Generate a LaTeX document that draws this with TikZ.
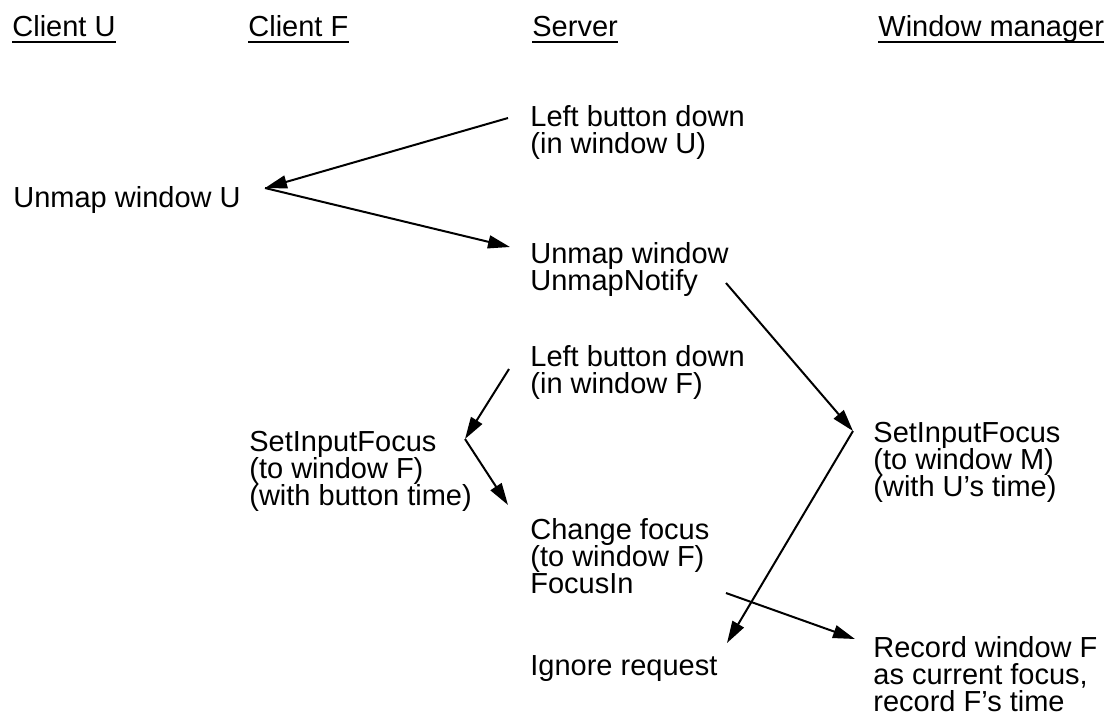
\documentclass[tikz,border=0pt]{standalone}
\usepackage{fontspec}
\setmainfont{Liberation Sans}
\usetikzlibrary{arrows.meta}

\begin{document}
\begin{tikzpicture}[x=0.5pt,y=-0.5pt,
  lbl/.style={anchor=base west,inner sep=0pt,align=left,
    font={\fontsize{14.5}{13.5}\selectfont\lineskiplimit=-20pt}},
  msg/.style={line width=1pt,-{Triangle[length=11pt,width=6.5pt]}},
  uline/.style={line width=1pt}]
\useasboundingbox (0,0) rectangle (1109,720);
\node [lbl] (cu) at (12,36) {Client U};
\node [lbl] (cf) at (248,36) {Client F};
\node [lbl] (sv) at (532,36) {Server};
\node [lbl] (wm) at (878,36) {Window manager};
\draw [uline] ([yshift=-3pt]cu.base west) -- ([yshift=-3pt]cu.base east);
\draw [uline] ([yshift=-3pt]cf.base west) -- ([yshift=-3pt]cf.base east);
\draw [uline] ([yshift=-3pt]sv.base west) -- ([yshift=-3pt]sv.base east);
\draw [uline] ([yshift=-3pt]wm.base west) -- ([yshift=-3pt]wm.base east);

\node [lbl] (lbU) at (530,153) {Left button down\\(in window U)};
\node [lbl] (unU) at (13,207) {Unmap window U};
\node [lbl] (unS) at (530,290) {Unmap window\\UnmapNotify};
\node [lbl] (lbF) at (530,393) {Left button down\\(in window F)};
\node [lbl] (sifF) at (249,505) {SetInputFocus\\(to window F)\\(with button time)};
\node [lbl] (sifM) at (873,496) {SetInputFocus\\(to window M)\\(with U’s time)};
\node [lbl] (chf) at (530,593) {Change focus\\(to window F)\\FocusIn};
\node [lbl] (ign) at (530,675) {Ignore request};
\node [lbl] (rec) at (873,711) {Record window F\\as current focus,\\record F’s time};

\coordinate (lbU-l) at (508,118);
\coordinate (unU-r) at (265,188);
\coordinate (unS-l) at (510,247);
\coordinate (unS-r) at (726,283);
\coordinate (sifM-l) at (853,431);
\coordinate (ign-r) at (727,643);
\coordinate (chf-r) at (726,593);
\coordinate (rec-l) at (855,639);
\coordinate (lbF-l) at (509,369);
\coordinate (sifF-r) at (465,439);
\coordinate (chf-l) at (508,505);

\draw [msg] (lbU-l) -- (unU-r);
\draw [msg] (unU-r) -- (unS-l);
\draw [msg] (unS-r) -- (sifM-l);
\draw [msg] (sifM-l) -- (ign-r);
\draw [msg] (chf-r) -- (rec-l);
\draw [msg] (lbF-l) -- (sifF-r);
\draw [msg] (sifF-r) -- (chf-l);
\end{tikzpicture}
\end{document}
